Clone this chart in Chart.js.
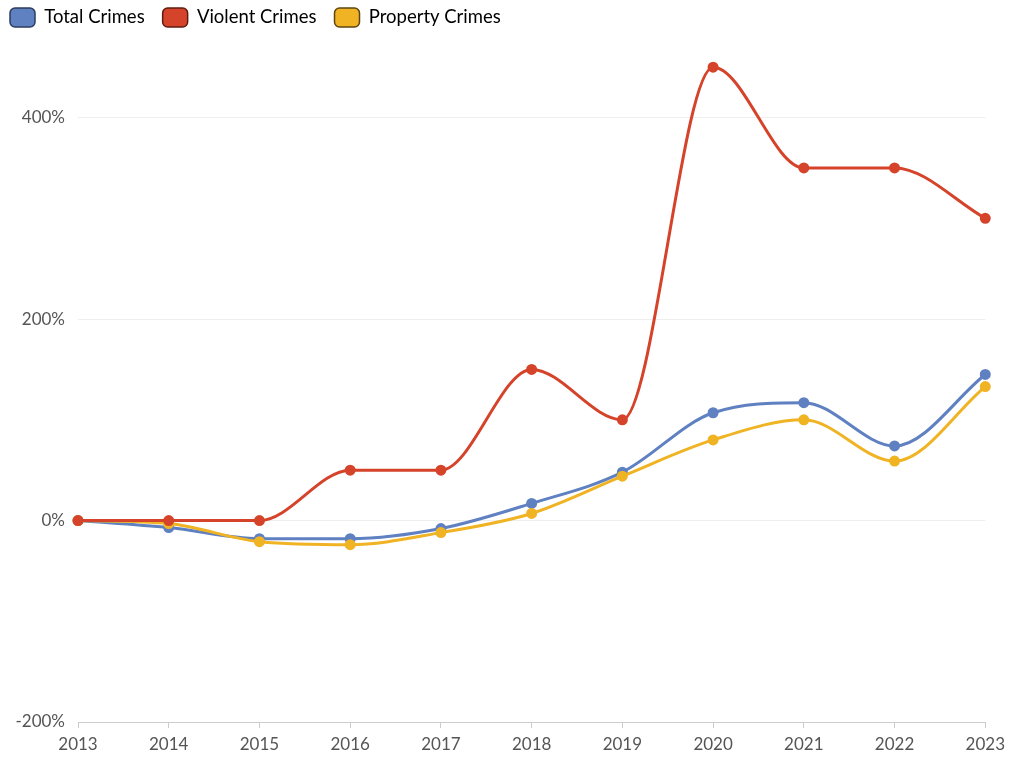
<!DOCTYPE html>
<html>
<head>
<meta charset="utf-8">
<script src="https://cdn.jsdelivr.net/npm/chart.js@4"></script>
<style>
  html, body { margin: 0; padding: 0; background: #fff; }
  #wrap { width: 1013px; height: 757px; }
</style>
</head>
<body>
<div id="wrap"><canvas id="crimeChart"></canvas></div>
<script>
// years on the x axis
var years = ["2013", "2014", "2015", "2016", "2017", "2018", "2019", "2020", "2021", "2022", "2023"];

// percent change since 2013
var totalCrimes    = [0, -7, -18, -18, -8, 17, 48, 107, 117, 74, 145];
var violentCrimes  = [0, 0, 0, 50, 50, 150, 100, 450, 350, 350, 300];
var propertyCrimes = [0, -3, -21, -24, -12, 7, 44, 80, 100, 59, 133];

// y ticks shown
var yTicks = [-200, 0, 200, 400];

var blue = "#5f80c1", red = "#d5442a", yellow = "#f0b323";
var boxBorder = { "Total Crimes": "#2c3c5e", "Violent Crimes": "#5e1c10", "Property Crimes": "#5e4510" };

function lineSet(label, data, color, order){
    return {
        label: label,
        data: data,
        borderColor: color,
        backgroundColor: color,
        pointBackgroundColor: color,
        pointBorderColor: color,
        pointRadius: 4,
        pointHoverRadius: 5,
        borderWidth: 3,
        cubicInterpolationMode: "monotone",
        order: order
    };
}

var ctx = document.getElementById("crimeChart");

new Chart(ctx, {
    type: "line",
    data: {
        labels: years,
        datasets: [
            lineSet("Total Crimes", totalCrimes, blue, 2),
            lineSet("Violent Crimes", violentCrimes, red, 0),
            lineSet("Property Crimes", propertyCrimes, yellow, 1)
        ]
    },
    options: {
        responsive: true,
        maintainAspectRatio: false,
        animation: false,
        layout: { padding: { left: -8, right: 17, top: -10, bottom: -4 } },
        plugins: {
            legend: {
                position: "top",
                align: "start",
                labels: {
                    boxWidth: 25,
                    boxHeight: 19,
                    padding: 18,
                    useBorderRadius: true,
                    borderRadius: 5,
                    color: "#444",
                    font: { family: "Lato", size: 18.5 },
                    generateLabels: function(chart){
                        return chart.data.datasets.map(function(ds, i){
                            return {
                                text: ds.label,
                                fillStyle: ds.borderColor,
                                strokeStyle: boxBorder[ds.label],
                                lineWidth: 1.5,
                                borderRadius: 5,
                                datasetIndex: i,
                                hidden: false
                            };
                        });
                    }
                }
            },
            tooltip: { enabled: false }
        },
        scales: {
            x: {
                offset: false,
                grid: { drawOnChartArea: false, color: "#cccccc", tickLength: 6 },
                border: { color: "#cccccc", width: 1 },
                ticks: { color: "#555", font: { family: "Lato", size: 17, lineHeight: 1 }, padding: 8, maxRotation: 0 }
            },
            y: {
                min: -200,
                max: 480,
                afterBuildTicks: function(axis){
                    axis.ticks = yTicks.map(function(v){ return { value: v }; });
                },
                afterFit: function(axis){ axis.width = 86; },
                grid: { color: "#eeeeee", drawTicks: false },
                border: { display: false },
                ticks: {
                    color: "#555",
                    font: { family: "Lato", size: 17 },
                    padding: 13,
                    callback: function(v){ return v + "%"; }
                }
            }
        }
    }
});
</script>
</body>
</html>
